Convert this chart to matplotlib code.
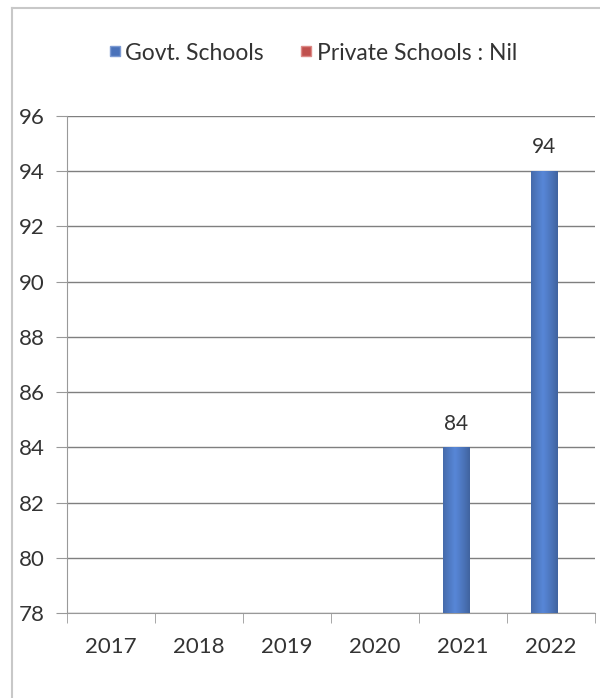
import matplotlib.pyplot as plt
import numpy as np
from matplotlib.lines import Line2D

years = ["2017", "2018", "2019", "2020", "2021", "2022"]
govt = [0, 0, 0, 0, 84, 94]
private = [0, 0, 0, 0, 0, 0]
yticks = [78, 80, 82, 84, 86, 88, 90, 92, 94, 96]

plt.rcParams['font.family'] = ['Lato', 'DejaVu Sans']

fig = plt.figure(figsize=(6.0, 6.98), dpi=100)
ax = fig.add_axes([67 / 600, 1 - 613 / 698, 528 / 600, (613 - 116) / 698])

x = np.arange(len(years))
w = 0.3
bars = ax.bar(x - 0.08, govt, width=w, color="#4a72ba", zorder=3)
ax.bar(x + 0.22, private, width=w, color="#c0504d", zorder=3)

# horizontal shading on the bars
grad = np.linspace(0, 1, 64)
shade = 1 - 0.5 * np.abs(grad - 0.45) ** 1.1
rgb = np.array([0x4e, 0x78, 0xc0]) / 255
img = np.clip(rgb[None, None, :] * shade[None, :, None] * 1.12, 0, 1)
for b, v in zip(bars, govt):
    if v <= 78:
        continue
    b.set_facecolor("none")
    im = ax.imshow(img, extent=[b.get_x(), b.get_x() + b.get_width(), 78, v],
                   aspect="auto", zorder=3)
    im.set_clip_path(b)
    ax.text(b.get_x() + b.get_width() / 2, v + 0.5, str(v), ha="center",
            va="bottom", fontsize=15, color="#333333", zorder=4)

ax.set_xlim(-0.5, len(years) - 0.5)
ax.set_ylim(78, 96)
ax.set_yticks(yticks)
ax.set_xticks(x)
ax.set_xticklabels(years)
ax.set_xticks(np.arange(len(years) + 1) - 0.5, minor=True)
ax.tick_params(axis="x", which="major", length=0, pad=17, labelsize=16, labelcolor="#333333")
ax.tick_params(axis="x", which="minor", length=7, color="#999999", direction="out")
ax.tick_params(axis="y", length=8, color="#999999", pad=8, labelsize=16, labelcolor="#333333")
ax.grid(axis="y", color="#7f7f7f", linewidth=1.0, zorder=0)
for s in ["top", "right"]:
    ax.spines[s].set_visible(False)
for s in ["left", "bottom"]:
    ax.spines[s].set_color("#999999")

# chart frame
fig.add_artist(Line2D([12 / 600, 12 / 600], [0, 1 - 8 / 698], color="#c8c8c8", lw=1.5))
fig.add_artist(Line2D([12 / 600, 1], [1 - 8 / 698, 1 - 8 / 698], color="#c8c8c8", lw=1.5))

handles = [Line2D([], [], ls="none", marker="s", markersize=7, markerfacecolor="#4a72ba",
                  markeredgecolor="#7d9bd3", label="Govt. Schools"),
           Line2D([], [], ls="none", marker="s", markersize=7, markerfacecolor="#c0504d",
                  markeredgecolor="#dc8a87", label="Private Schools : Nil")]
fig.legend(handles=handles, loc="center", bbox_to_anchor=(313 / 600, 1 - 53 / 698),
           ncol=2, frameon=False, fontsize=16.5, handlelength=0.5,
           handletextpad=0.2, columnspacing=1.6, labelcolor="#333333")

fig.savefig("out.png", dpi=100)
